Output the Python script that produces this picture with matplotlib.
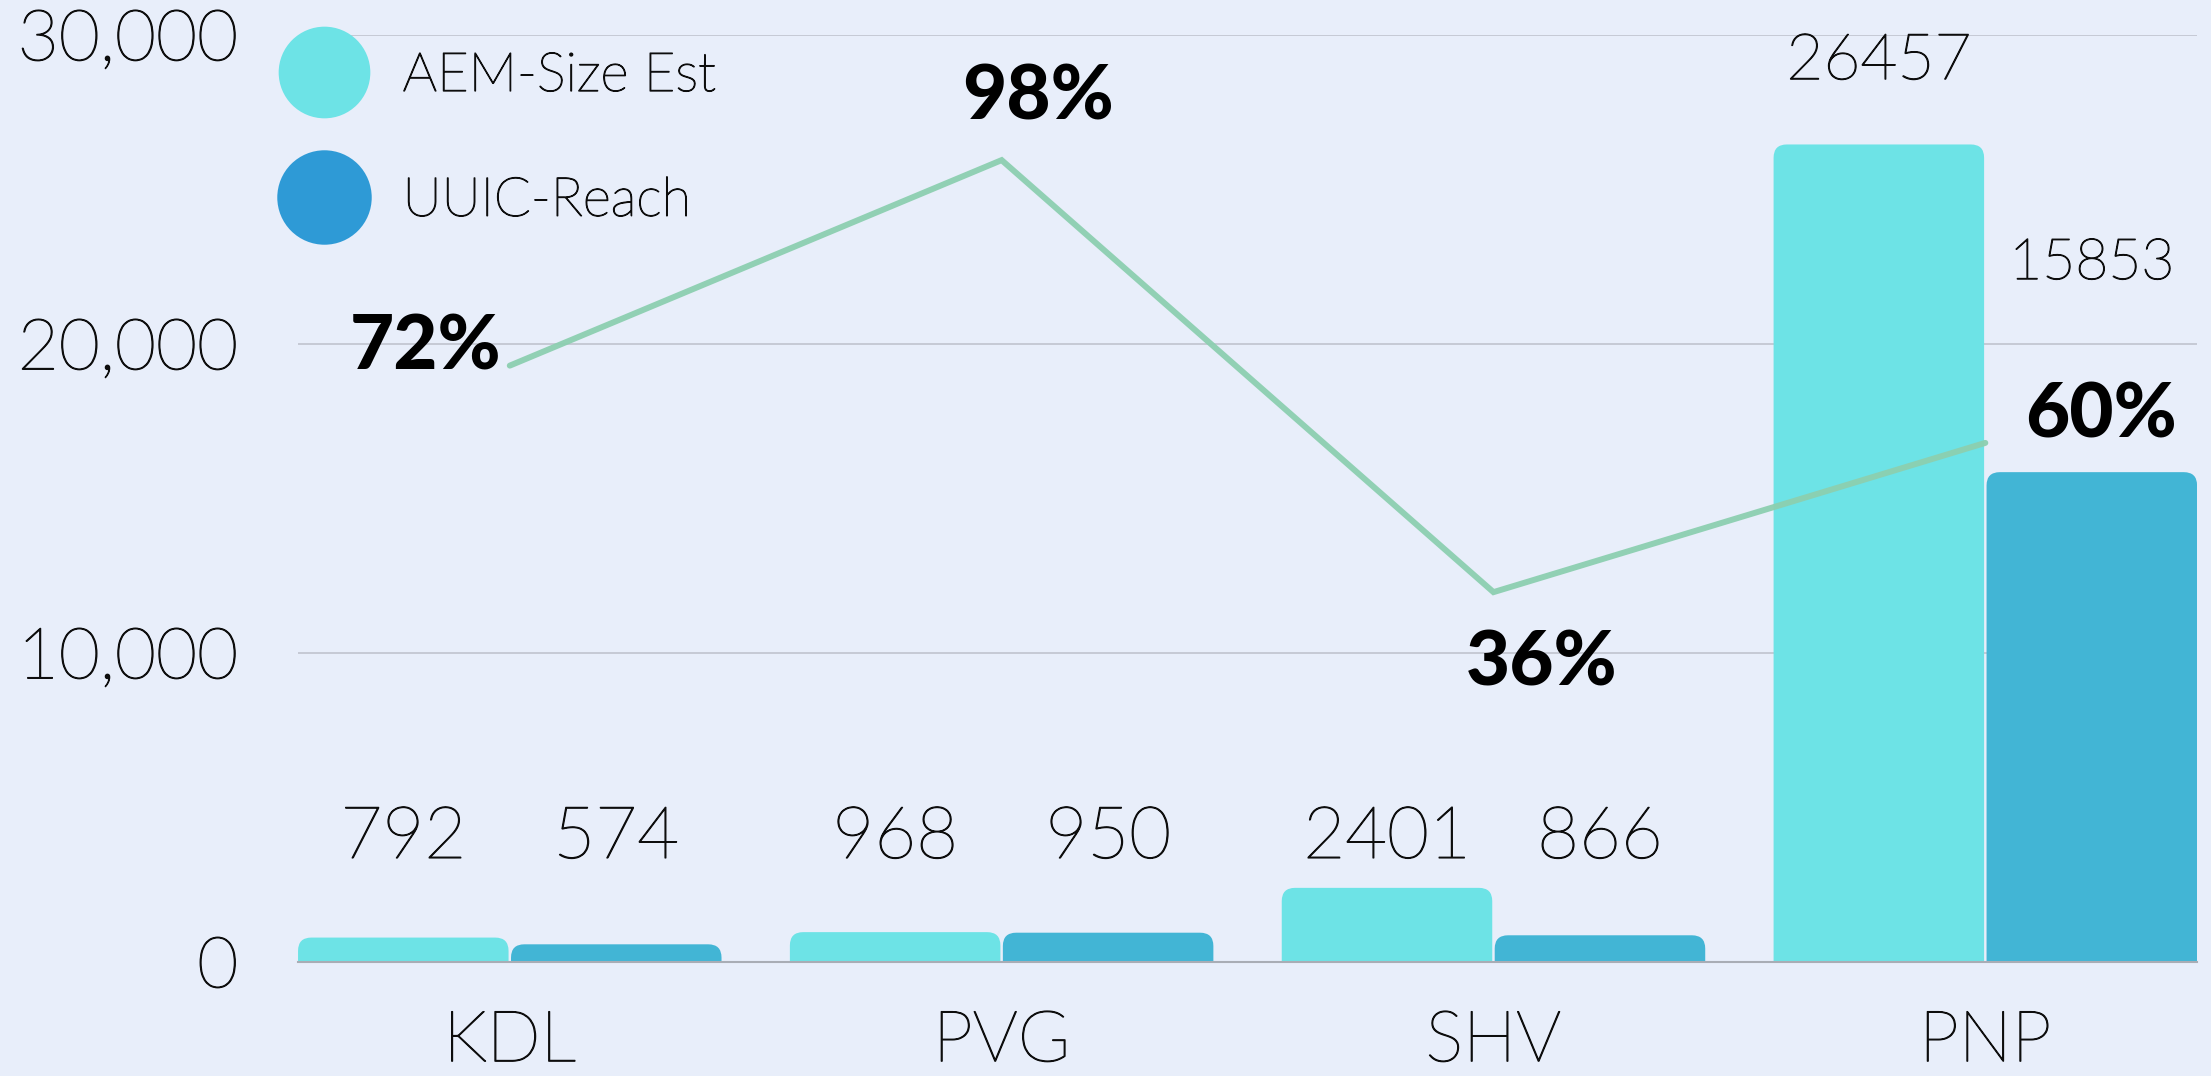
import matplotlib.pyplot as plt
import matplotlib.patheffects as pe
import numpy as np
from matplotlib.patches import FancyBboxPatch
from matplotlib.lines import Line2D
from matplotlib.ticker import FuncFormatter

sites = ["KDL", "PVG", "SHV", "PNP"]
aem_size = [792, 968, 2401, 26457]
uuic_reach = [574, 950, 866, 15853]
reach_pct = ["72%", "98%", "36%", "60%"]
# where the ratio line sits (in left-axis units)
ratio_line = [19300, 25950, 11970, 16800]

# layout of the labels (hand placed in the original)
aem_label_y = [4000, 4000, 4000, 29130]
uuic_label_y = [4000, 4000, 4000, 22620]
aem_label_size = [52, 52, 52, 46]
uuic_label_size = [52, 52, 52, 41]
pct_offsets = [(-8, 18, "right"), (36, 63, "center"), (48, -71, "center"), (40, 27, "left")]

bg = "#e8eefa"
c_aem = "#6de3e6"
c_uuic = "#42b5d5"
c_uuic_legend = "#2e9ad6"
c_line = "#8ccfb0"
ink = "#0d0d0d"

plt.rcParams['font.family'] = ['Lato', 'DejaVu Sans']

# light face, thickened a touch so it sits between Lato Light and Regular
thin = [pe.withStroke(linewidth=0.9, foreground=ink)]

fig = plt.figure(figsize=(22.11, 10.76), dpi=100, facecolor=bg)
ax = fig.add_axes([0.1348, 0.1059, 0.8589, 0.8616])
ax.set_facecolor(bg)

x = np.arange(len(sites))
w = 0.428
off = 0.2165
bars1 = ax.bar(x - off, aem_size, w, color=c_aem)
bars2 = ax.bar(x + off, uuic_reach, w, color=c_uuic)

# swap the plain rectangles for ones with rounded tops
# (the bottom corners hang below y=0 and get clipped)
def round_top(bars, color):
    for r in bars:
        r.set_visible(False)
        p = FancyBboxPatch((r.get_x(), -1500), r.get_width(), r.get_height() + 1500,
                           boxstyle="round,pad=0,rounding_size=0.027",
                           mutation_aspect=15900, fc=color, ec="none", zorder=2)
        ax.add_patch(p)

round_top(bars1, c_aem)
round_top(bars2, c_uuic)

for i in range(len(sites)):
    ax.text(x[i] - off, aem_label_y[i], str(aem_size[i]), ha="center", va="center",
            fontsize=aem_label_size[i], fontweight="light", color=ink, path_effects=thin)
    ax.text(x[i] + off, uuic_label_y[i], str(uuic_reach[i]), ha="center", va="center",
            fontsize=uuic_label_size[i], fontweight="light", color=ink, path_effects=thin)

ax.plot(x, ratio_line, color=c_line, lw=4.3, alpha=0.95, solid_capstyle="round",
        solid_joinstyle="miter", zorder=3)
for i, (dx, dy, ha) in enumerate(pct_offsets):
    ax.annotate(reach_pct[i], (x[i], ratio_line[i]), xytext=(dx, dy),
                textcoords="offset pixels", ha=ha, va="center",
                fontsize=55, fontweight="black", color="black", zorder=4)

ax.set_xlim(-0.4305, 3.4305)
ax.set_ylim(0, 30000)
ax.set_yticks([0, 10000, 20000, 30000])
ax.yaxis.set_major_formatter(FuncFormatter(lambda v, p: f"{v:,.0f}"))
ax.set_xticks(x)
ax.set_xticklabels(sites)
ax.tick_params(axis="y", length=0, pad=43, labelsize=51, labelcolor=ink)
ax.tick_params(axis="x", length=0, pad=35, labelsize=51, labelcolor=ink)
for lbl in ax.get_xticklabels() + ax.get_yticklabels():
    lbl.set_fontweight("light")
    lbl.set_path_effects(thin)

ax.yaxis.grid(True, color="#c6cad4", lw=1.4)
ax.set_axisbelow(True)
for s in ["top", "right", "left"]:
    ax.spines[s].set_visible(False)
ax.spines["bottom"].set_color("#a9adb5")
ax.spines["bottom"].set_linewidth(1.5)

handles = [
    Line2D([], [], ls="", marker="o", ms=66, mfc=c_aem, mec="none", label="AEM-Size Est"),
    Line2D([], [], ls="", marker="o", ms=68, mfc=c_uuic_legend, mec="none", label="UUIC-Reach"),
]
leg = ax.legend(handles=handles, loc="upper left", bbox_to_anchor=(297 / 2211, 1 - 52 / 1076),
                bbox_transform=fig.transFigure, frameon=False, fontsize=39,
                handlelength=1, handletextpad=0.95, labelspacing=1.4,
                borderpad=0, borderaxespad=0)
for t in leg.get_texts():
    t.set_color(ink)
    t.set_fontweight("light")
    t.set_path_effects(thin)

fig.savefig("out.png", dpi=100, facecolor=bg)
